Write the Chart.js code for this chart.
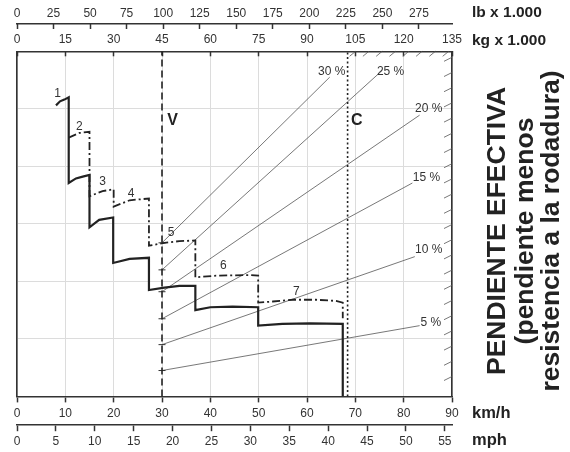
<!DOCTYPE html>
<html>
<head>
<meta charset="utf-8">
<title>Pendiente efectiva</title>
<script src="https://cdn.jsdelivr.net/npm/chart.js"></script>
<style>
  html, body { margin: 0; padding: 0; background: #fff; }
</style>
</head>
<body>
<canvas id="gradeChart" width="570" height="452"></canvas>
<script>
// y is an unlabeled force grid (0..6), x is speed in km/h
const solidKmh = [8.07, 8.9, 9.8, 10.7, 10.7, 12.2, 13.6, 15.0, 15.0, 17.0, 19.9, 19.9, 23.3, 27.3, 27.3, 30.5, 33.6, 36.9, 36.9, 40.0, 44.6, 49.9, 49.9, 54.9, 60.6, 67.4, 67.4];
const solidVal = [5.06, 5.13, 5.16, 5.20, 3.71, 3.79, 3.82, 3.85, 2.94, 3.07, 3.11, 2.32, 2.39, 2.41, 1.85, 1.89, 1.92, 1.92, 1.50, 1.55, 1.56, 1.55, 1.23, 1.26, 1.27, 1.26, 0];
const dashKmh = [10.7, 12.9, 15.0, 15.0, 17.7, 20.0, 20.0, 23.3, 27.3, 27.3, 30.5, 33.6, 36.9, 36.9, 41.2, 48.1, 49.9, 49.9, 52.9, 57.1, 61.9, 66.0, 67.4, 67.4];
const dashVal = [4.50, 4.58, 4.60, 3.48, 3.57, 3.60, 3.30, 3.41, 3.44, 2.62, 2.67, 2.70, 2.71, 2.07, 2.10, 2.11, 2.10, 1.63, 1.65, 1.68, 1.68, 1.66, 1.63, 1.36];

const gradeLabels = ['30 %', '25 %', '20 %', '15 %', '10 %', '5 %'];
const gradeStartVal = [2.67, 2.20, 1.82, 1.35, 0.90, 0.45];
const gradeEndKmh = [64.7, 75.6, 83.3, 81.8, 82.3, 83.3];
const gradeEndVal = [5.55, 5.67, 4.89, 3.71, 2.43, 1.23];
const gradeLabelKmh = [65.1, 77.3, 85.2, 84.7, 85.2, 85.6];
const gradeLabelVal = [5.64, 5.64, 5.01, 3.80, 2.55, 1.28];

const gearLabels = ['1', '2', '3', '4', '5', '6', '7'];
const gearLabelKmh = [8.4, 12.9, 17.7, 23.6, 31.9, 42.7, 57.8];
const gearLabelVal = [5.27, 4.69, 3.73, 3.53, 2.84, 2.27, 1.82];

const emptyKmh = 30;     // V
const loadedKmh = 68.4;  // C
const kmhMax = 90;
const kgMax = 135;
const lbPerKg = 2.20462;
const kmhPerMph = 1.609344;

const sideTitle = ['PENDIENTE EFECTIVA', '(pendiente menos', 'resistencia a la rodadura)'];

Chart.defaults.font.family = "'Liberation Sans', Arial, sans-serif";
Chart.defaults.color = '#333';

const ink = '#222';
const gridGray = '#dcdcdc';

function pts(xs, ys) {
  return xs.map((x, i) => ({ x: x, y: ys[i] }));
}

const datasets = [
  { data: pts(solidKmh, solidVal), borderColor: ink, borderWidth: 2.2, pointRadius: 0 },
  { data: pts(dashKmh, dashVal), borderColor: ink, borderWidth: 1.8, borderDash: [8, 3, 2, 3], pointRadius: 0 },
  { data: [{ x: emptyKmh, y: 0 }, { x: emptyKmh, y: 6 }], borderColor: ink, borderWidth: 1.6, borderDash: [7, 4], pointRadius: 0 },
  { data: [{ x: loadedKmh, y: 0 }, { x: loadedKmh, y: 6 }], borderColor: ink, borderWidth: 1.6, borderDash: [2, 2.5], pointRadius: 0 }
];
gradeLabels.forEach((g, i) => {
  datasets.push({
    data: [{ x: emptyKmh, y: gradeStartVal[i] }, { x: gradeEndKmh[i], y: gradeEndVal[i] }],
    borderColor: '#555', borderWidth: 0.8,
    pointStyle: 'line', pointRadius: [3.5, 0], pointBorderColor: '#333', pointBorderWidth: 1
  });
});

const decor = {
  id: 'decor',
  afterDatasetsDraw(chart) {
    const { ctx, chartArea: a, scales } = chart;
    const x = scales.x, y = scales.y;
    ctx.save();
    // hatching along the top and right border
    ctx.strokeStyle = '#555';
    ctx.lineWidth = 0.8;
    ctx.beginPath();
    for (let hx = x.getPixelForValue(loadedKmh) + 7; hx < a.right - 1; hx += 13.3) {
      ctx.moveTo(hx - 5, a.top + 5);
      ctx.lineTo(hx + 1, a.top);
    }
    for (let hy = a.top + 6; hy < a.bottom - 12; hy += 15.2) {
      ctx.moveTo(a.right - 8, hy + 4);
      ctx.lineTo(a.right, hy);
    }
    ctx.stroke();

    ctx.fillStyle = '#333';
    ctx.textAlign = 'center';
    ctx.textBaseline = 'middle';
    ctx.font = "12px 'Liberation Sans', Arial, sans-serif";
    gearLabels.forEach((t, i) => {
      ctx.fillText(t, x.getPixelForValue(gearLabelKmh[i]), y.getPixelForValue(gearLabelVal[i]));
    });
    gradeLabels.forEach((t, i) => {
      ctx.fillText(t, x.getPixelForValue(gradeLabelKmh[i]), y.getPixelForValue(gradeLabelVal[i]));
    });
    ctx.fillStyle = ink;
    ctx.font = "bold 16px 'Liberation Sans', Arial, sans-serif";
    ctx.fillText('V', x.getPixelForValue(32.2), y.getPixelForValue(4.8));
    ctx.fillText('C', x.getPixelForValue(70.3), y.getPixelForValue(4.8));
    ctx.restore();
  },
  afterDraw(chart) {
    const { ctx, chartArea: a, scales } = chart;
    ctx.save();
    ctx.fillStyle = ink;
    ctx.textAlign = 'left';
    ctx.textBaseline = 'middle';
    const lx = a.right + 20;
    ctx.font = "bold 15.5px 'Liberation Sans', Arial, sans-serif";
    ctx.fillText('lb x 1.000', lx, scales.xLb.bottom - 11);
    ctx.fillText('kg x 1.000', lx, scales.xKg.bottom - 11);
    ctx.font = "bold 16.5px 'Liberation Sans', Arial, sans-serif";
    ctx.fillText('km/h', lx, scales.x.top + 17);
    ctx.fillText('mph', lx, scales.xMph.top + 16);

    ctx.font = "bold 26.5px 'Liberation Sans', Arial, sans-serif";
    ctx.textAlign = 'center';
    const cols = [a.right + 46, a.right + 74, a.right + 100];
    sideTitle.forEach((t, i) => {
      ctx.save();
      ctx.translate(cols[i], 231);
      ctx.rotate(-Math.PI / 2);
      ctx.fillText(t, 0, 0);
      ctx.restore();
    });
    ctx.restore();
  }
};

const tickFont = { size: 12 };

new Chart(document.getElementById('gradeChart').getContext('2d'), {
  type: 'scatter',
  data: { datasets: datasets },
  options: {
    responsive: false,
    animation: false,
    showLine: true,
    layout: { padding: { left: 17, right: 118, top: 0, bottom: 0 } },
    plugins: { legend: { display: false }, tooltip: { enabled: false } },
    scales: {
      x: {
        type: 'linear', position: 'bottom', min: 0, max: kmhMax,
        ticks: { stepSize: 10, padding: 4, font: tickFont, maxRotation: 0, autoSkip: false, includeBounds: false },
        grid: { color: gridGray, lineWidth: 1, tickLength: 6, tickColor: '#333', tickWidth: 1.5 },
        border: { color: '#333', width: 1.6 },
        afterFit: s => { s.height = 28.3; }
      },
      xMph: {
        type: 'linear', position: 'bottom', min: 0, max: kmhMax / kmhPerMph,
        ticks: { stepSize: 5, padding: 3, font: tickFont, maxRotation: 0, autoSkip: false, includeBounds: false, maxTicksLimit: 20 },
        grid: { drawOnChartArea: false, tickLength: 6.5, tickColor: '#333', tickWidth: 1.5 },
        border: { color: '#333', width: 1.6 },
        afterFit: s => { s.height = 27.3; }
      },
      xKg: {
        type: 'linear', position: 'top', min: 0, max: kgMax,
        ticks: { stepSize: 15, padding: 9, font: tickFont, maxRotation: 0, autoSkip: false, includeBounds: false },
        grid: { drawOnChartArea: false, tickLength: -5, tickColor: '#333', tickWidth: 1.5 },
        border: { color: '#333', width: 1.6 },
        afterFit: s => { s.height = 27.3; }
      },
      xLb: {
        type: 'linear', position: 'top', min: 0, max: kgMax * lbPerKg,
        ticks: { stepSize: 25, padding: 8.5, font: tickFont, maxRotation: 0, autoSkip: false, includeBounds: false, maxTicksLimit: 20 },
        grid: { drawOnChartArea: false, tickLength: -5, tickColor: '#333', tickWidth: 1.5 },
        border: { color: '#333', width: 1.6 },
        afterFit: s => { s.height = 24; }
      },
      y: {
        position: 'left', min: 0, max: 6,
        ticks: { display: false, stepSize: 1 },
        grid: { color: gridGray, drawTicks: false },
        border: { color: '#333', width: 1.6 }
      },
      yR: {
        position: 'right', min: 0, max: 6,
        ticks: { display: false },
        grid: { drawOnChartArea: false, drawTicks: false },
        border: { color: '#333', width: 1.6 }
      }
    }
  },
  plugins: [decor]
});
</script>
</body>
</html>
